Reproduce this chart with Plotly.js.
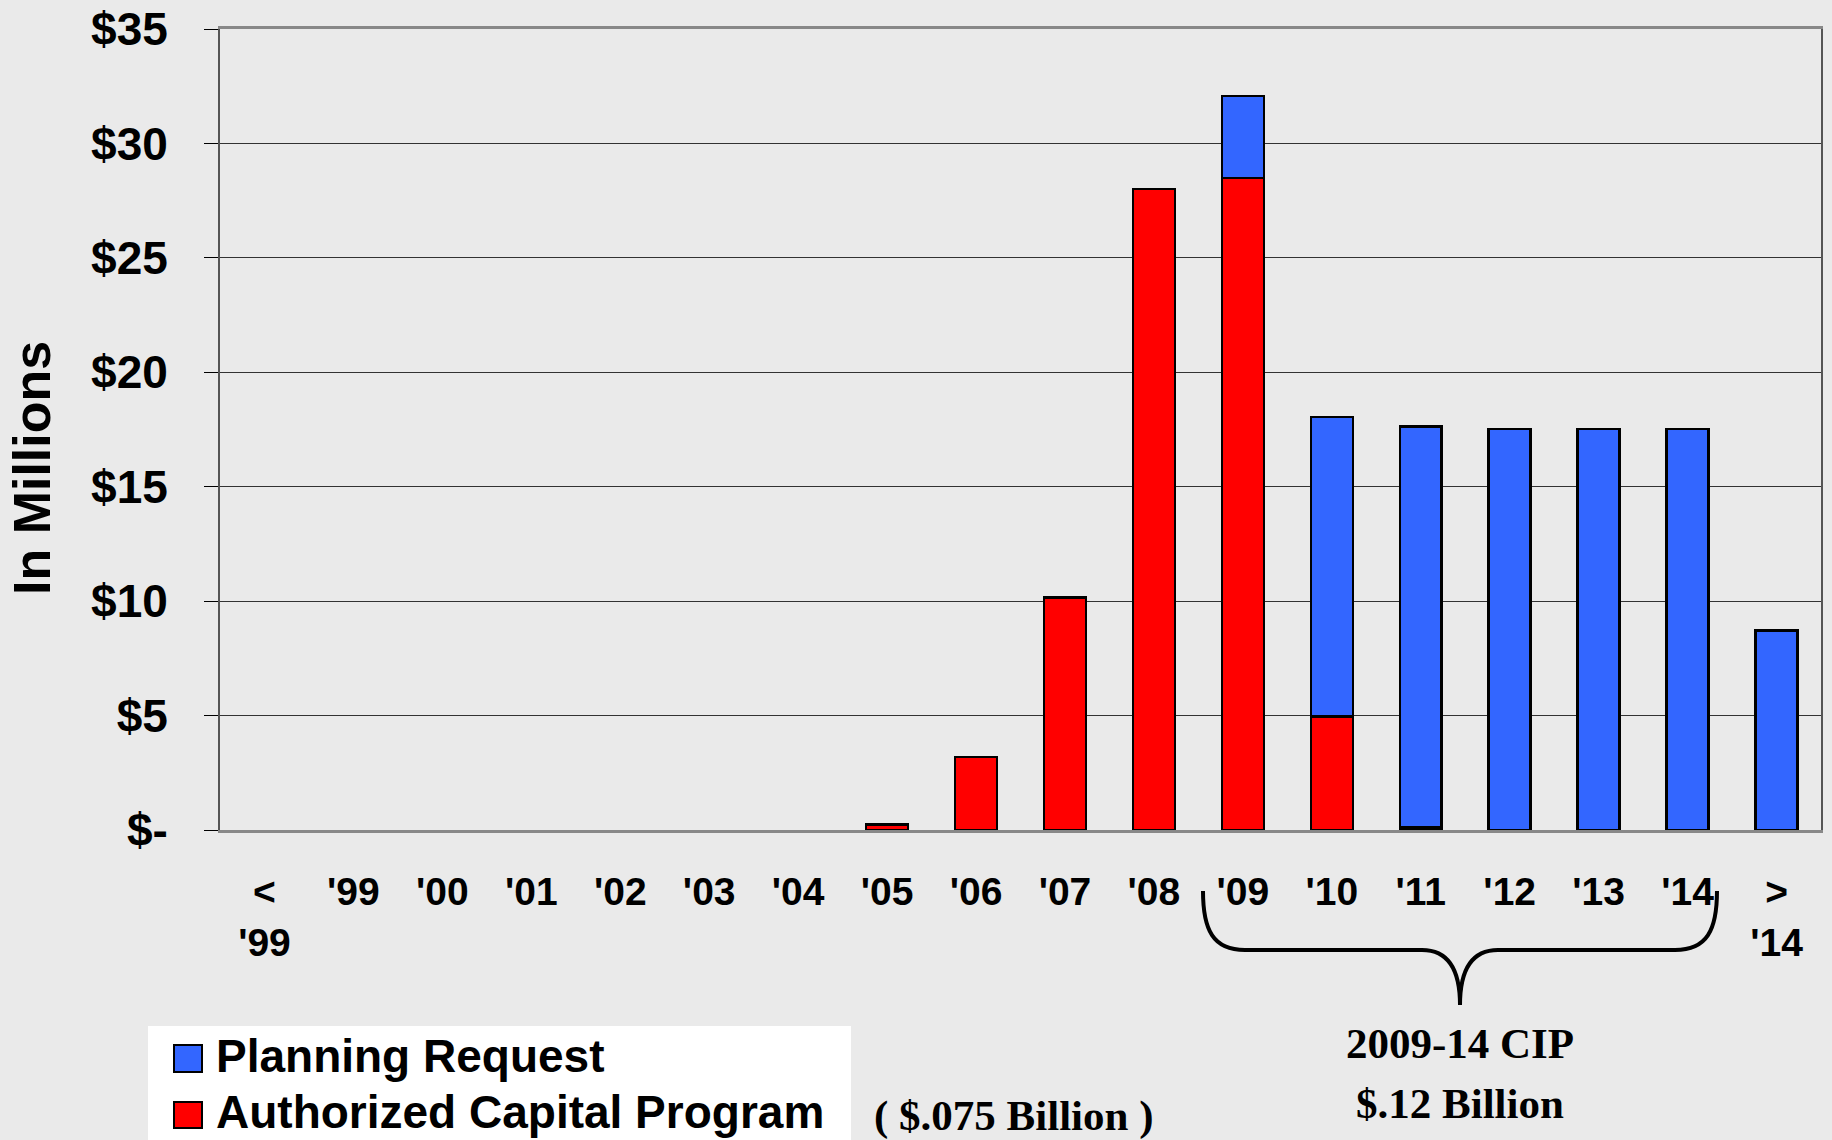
<!DOCTYPE html>
<html><head><meta charset="utf-8">
<script src="https://cdn.plot.ly/plotly-3.0.1.min.js"></script>
<style>html,body{margin:0;padding:0;background:#EAEAEA;overflow:hidden}</style>
</head><body>
<div id="chart" style="width:1832px;height:1140px"></div>
<script>
// ---- data ----
const categories = ["<'99","'99","'00","'01","'02","'03","'04","'05","'06","'07","'08","'09","'10","'11","'12","'13","'14",">'14"];
const tickLabels = ["&lt;<br>'99","'99","'00","'01","'02","'03","'04","'05","'06","'07","'08","'09","'10","'11","'12","'13","'14","&gt;<br>'14"];
const authorizedCapital = [null,null,null,null,null,null,null,0.25,3.2,10.17,28.0,28.49,4.97,0.1,null,null,null,null];
const planningRequest   = [null,null,null,null,null,null,null,null,null,null,null,3.58,13.07,17.53,17.52,17.52,17.52,8.72];
const yTickVals = [0,5,10,15,20,25,30,35];
const yTickText = ["$-","$5","$10","$15","$20","$25","$30","$35"];
const seriesNames = ["Planning Request","Authorized Capital Program"];
const cipLabel = ["2009-14 CIP","$.12 Billion"];
const authorizedTotal = "( $.075 Billion )";

// ---- geometry ----
const W = 1832, H = 1140, ML = 220, MR = 11, MT = 29, MB = 310;
const PW = W - ML - MR, PH = H - MT - MB;
const px = x => (x - ML) / PW;
const py = y => (H - MB - y) / PH;

const SANS = "Liberation Sans, Arial, sans-serif";
const SERIF = "Liberation Serif, Times New Roman, serif";
const BLUE = "#3366FF", RED = "#FF0000";

const traces = [
  {type:"bar", x:categories, y:authorizedCapital, name:seriesNames[1],
   marker:{color:RED, line:{color:"#000", width:2.5}}},
  {type:"bar", x:categories, y:planningRequest, name:seriesNames[0],
   marker:{color:BLUE, line:{color:"#000", width:2.5}}}
];

// curly brace path (pixel points -> paper)
const bracePts = [
  ["M",[1203,891]],
  ["C",[1203,930],[1213,950],[1245,950]],
  ["L",[1422,950]],
  ["C",[1447,950],[1460,968],[1460,1005]],
  ["C",[1460,968],[1473,950],[1498,950]],
  ["L",[1675,950]],
  ["C",[1707,950],[1717,930],[1717,891]]
];
const bracePath = bracePts.map(seg => seg[0] + " " + seg.slice(1).map(p => px(p[0]).toFixed(5)+","+py(p[1]).toFixed(5)).join(" ")).join(" ");

const rectPaper = (x0,y0,x1,y1,fill,lw) => ({type:"rect", xref:"paper", yref:"paper",
  x0:px(x0), x1:px(x1), y0:py(y0), y1:py(y1), fillcolor:fill, line:{color:"#000", width:lw}});

const layout = {
  width:W, height:H, autosize:false,
  margin:{l:ML, r:MR, t:MT, b:MB, pad:0},
  paper_bgcolor:"#EAEAEA", plot_bgcolor:"#EAEAEA",
  barmode:"stack", bargap:0.528, showlegend:false,
  xaxis:{type:"category", tickvals:categories, ticktext:tickLabels,
    tickfont:{family:SANS, size:39, color:"#000", weight:700},
    ticks:"", ticklabelstandoff:25,
    showline:true, linecolor:"#888", linewidth:3, mirror:true, showgrid:false, fixedrange:true},
  yaxis:{range:[0,35], tickvals:yTickVals, ticktext:yTickText,
    tickfont:{family:SANS, size:46, color:"#000", weight:700},
    ticks:"outside", ticklen:14, tickcolor:"#000", tickwidth:1, ticklabelstandoff:27,
    showline:true, linecolor:"#555", linewidth:2, mirror:true,
    showgrid:true, gridcolor:"#333", gridwidth:1, zeroline:false, fixedrange:true},
  shapes:[
    rectPaper(148,1026,851,1145,"#FFFFFF",0),
    rectPaper(174,1045,202,1072,BLUE,2),
    rectPaper(174,1102,202,1128,RED,2),
    {type:"path", xref:"paper", yref:"paper", path:bracePath, line:{color:"#000", width:4}}
  ],
  annotations:[
    {text:"In Millions", xref:"paper", yref:"paper", x:px(32), y:py(468), textangle:-90,
     showarrow:false, xanchor:"center", yanchor:"middle", font:{family:SANS, size:52, color:"#000", weight:700}},
    {text:seriesNames[0], xref:"paper", yref:"paper", x:px(214), y:py(1056), showarrow:false,
     xanchor:"left", yanchor:"middle", font:{family:SANS, size:46, color:"#000", weight:700}},
    {text:seriesNames[1], xref:"paper", yref:"paper", x:px(214), y:py(1112), showarrow:false,
     xanchor:"left", yanchor:"middle", font:{family:SANS, size:46, color:"#000", weight:700}},
    {text:authorizedTotal, xref:"paper", yref:"paper", x:px(872), y:py(1116), showarrow:false,
     xanchor:"left", yanchor:"middle", font:{family:SERIF, size:43, color:"#000", weight:700}},
    {text:cipLabel[0], xref:"paper", yref:"paper", x:px(1460), y:py(1043), showarrow:false,
     xanchor:"center", yanchor:"middle", font:{family:SERIF, size:43, color:"#000", weight:700}},
    {text:cipLabel[1], xref:"paper", yref:"paper", x:px(1460), y:py(1103), showarrow:false,
     xanchor:"center", yanchor:"middle", font:{family:SERIF, size:43, color:"#000", weight:700}}
  ]
};

Plotly.newPlot("chart", traces, layout, {displayModeBar:false, staticPlot:true});
</script>
</body></html>
